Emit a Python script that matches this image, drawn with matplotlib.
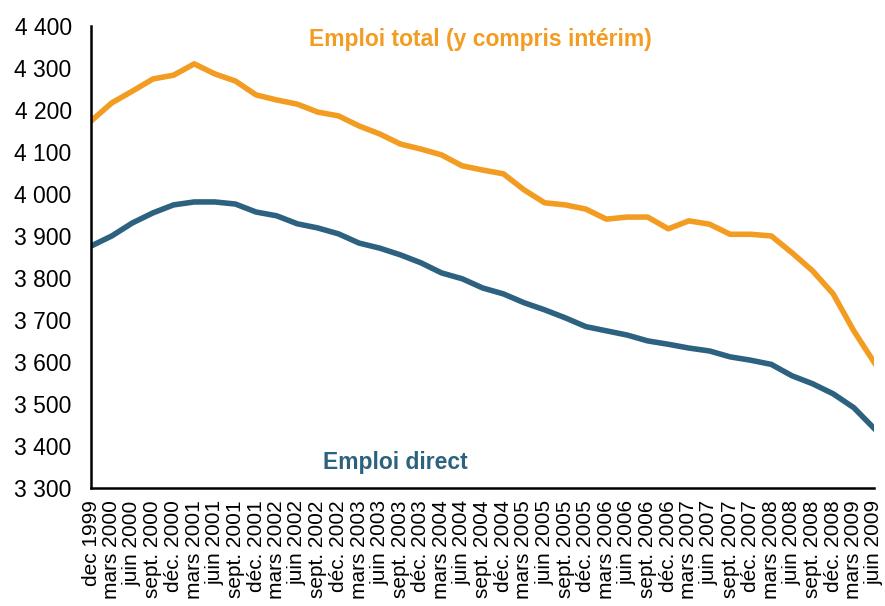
import matplotlib
matplotlib.use("Agg")
import matplotlib.pyplot as plt
from matplotlib.ticker import FuncFormatter

plt.rcParams["font.family"] = ["Liberation Sans", "DejaVu Sans"]

quarters = [
    "dec 1999",
    "mars 2000", "juin 2000", "sept. 2000", "déc. 2000",
    "mars 2001", "juin 2001", "sept. 2001", "déc. 2001",
    "mars 2002", "juin 2002", "sept. 2002", "déc. 2002",
    "mars 2003", "juin 2003", "sept. 2003", "déc. 2003",
    "mars 2004", "juin 2004", "sept. 2004", "déc. 2004",
    "mars 2005", "juin 2005", "sept. 2005", "déc. 2005",
    "mars 2006", "juin 2006", "sept. 2006", "déc. 2006",
    "mars 2007", "juin 2007", "sept. 2007", "déc. 2007",
    "mars 2008", "juin 2008", "sept. 2008", "déc. 2008",
    "mars 2009", "juin 2009",
]

# emploi total (y compris intérim), milliers
emploi_total = [
    4174,
    4217, 4245, 4274, 4283,
    4310, 4286, 4269, 4236,
    4224, 4214, 4195, 4186,
    4162, 4143, 4119, 4107,
    4093, 4067, 4057, 4048,
    4010, 3979, 3974, 3964,
    3940, 3945, 3945, 3917,
    3936, 3928, 3904, 3904,
    3900, 3860, 3817, 3762,
    3674, 3598,
]

# emploi direct, milliers
emploi_direct = [
    3876,
    3900, 3931, 3955, 3974,
    3981, 3981, 3976, 3957,
    3948, 3929, 3919, 3905,
    3883, 3871, 3855, 3836,
    3812, 3798, 3776, 3762,
    3741, 3724, 3705, 3684,
    3674, 3664, 3650, 3642,
    3633, 3626, 3612, 3604,
    3594, 3567, 3548, 3524,
    3491, 3441,
]

y_ticks = [3300, 3400, 3500, 3600, 3700, 3800, 3900, 4000, 4100, 4200, 4300, 4400]

ORANGE = "#F39C22"
BLUE = "#2C6280"

fig = plt.figure(figsize=(8.85, 6.06), dpi=100)
ax = fig.add_axes([0.103, 0.195, 0.885, 0.762])

x = list(range(len(quarters)))
ax.plot(x, emploi_total, color=ORANGE, lw=4, solid_joinstyle="round")
ax.plot(x, emploi_direct, color=BLUE, lw=4, solid_joinstyle="round")

ax.set_xlim(0, len(quarters) - 1)
ax.set_ylim(3300, 4400)
ax.set_yticks(y_ticks)
ax.yaxis.set_major_formatter(FuncFormatter(lambda v, p: f"{int(v):,}".replace(",", " ")))
ax.set_xticks(x)
ax.set_xticklabels(quarters, rotation=90, fontsize=15)
ax.tick_params(axis="y", length=0, pad=14, labelsize=16.5)
ax.tick_params(axis="x", length=0, pad=9)

for s in ("top", "right"):
    ax.spines[s].set_visible(False)
for s in ("left", "bottom"):
    ax.spines[s].set_linewidth(1.8)
    ax.spines[s].set_color("black")

ax.text(0.278, 0.97, "Emploi total (y compris intérim)", transform=ax.transAxes,
        color=ORANGE, fontsize=16.5, fontweight="bold", va="center", ha="left")
ax.text(0.296, 0.055, "Emploi direct", transform=ax.transAxes,
        color=BLUE, fontsize=16.5, fontweight="bold", va="center", ha="left")

fig.savefig("out.png", dpi=100)
